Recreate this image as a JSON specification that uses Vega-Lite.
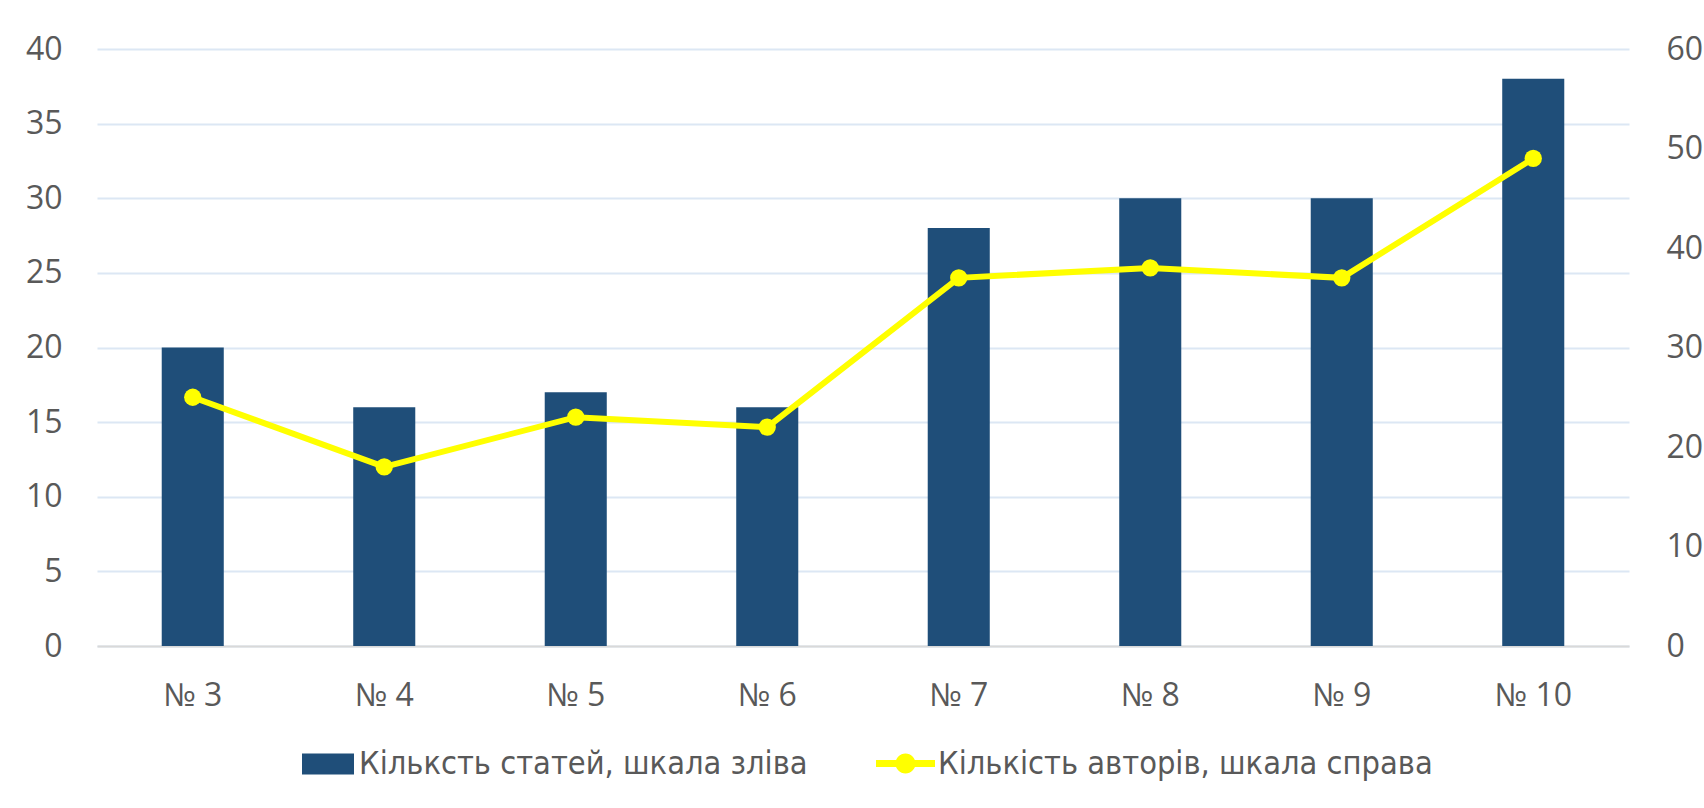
{
  "$schema": "https://vega.github.io/schema/vega-lite/v6.json",
  "width": 1532,
  "height": 597,
  "autosize": {"type": "none"},
  "padding": {"left": 97, "top": 49, "right": 75, "bottom": 162},
  "background": "white",
  "config": {
    "view": {"stroke": null},
    "font": "Open Sans",
    "axis": {"labelFont": "Open Sans", "labelColor": "#595959", "labelFontSize": 32, "tickSize": 0, "ticks": false, "title": null}
  },
  "data": {
    "values": [
      {"issue": "№ 3", "articles": 20, "authors": 25},
      {"issue": "№ 4", "articles": 16, "authors": 18},
      {"issue": "№ 5", "articles": 17, "authors": 23},
      {"issue": "№ 6", "articles": 16, "authors": 22},
      {"issue": "№ 7", "articles": 28, "authors": 37},
      {"issue": "№ 8", "articles": 30, "authors": 38},
      {"issue": "№ 9", "articles": 30, "authors": 37},
      {"issue": "№ 10", "articles": 38, "authors": 49}
    ]
  },
  "encoding": {
    "x": {
      "field": "issue", "type": "nominal", "sort": null,
      "scale": {"paddingInner": 0.676, "paddingOuter": 0.338},
      "axis": {"labelAngle": 0, "labelPadding": 49, "labelBaseline": "middle", "domainColor": "#D9D9D9", "domainWidth": 2, "grid": false}
    }
  },
  "layer": [
    {
      "mark": {"type": "bar", "fill": "#1F4E79"},
      "encoding": {
        "y": {
          "field": "articles", "type": "quantitative",
          "scale": {"domain": [0, 40], "nice": false},
          "axis": {"orient": "left", "values": [0, 5, 10, 15, 20, 25, 30, 35, 40], "domain": false, "grid": true, "gridColor": "#DCE7F4", "gridWidth": 2, "labelPadding": 35}
        },
        "fill": {
          "datum": "Кільк\u0441ть статей, шкала зліва",
          "scale": {"range": ["#1F4E79"]},
          "legend": {
            "title": null, "orient": "none", "legendX": 205, "legendY": 689, "padding": 0,
            "symbolType": "M-1,-0.4H1V0.4H-1Z", "symbolSize": 2704, "symbolStrokeWidth": 0,
            "labelFont": "Liberation Sans Narrow, DejaVu Sans Condensed, sans-serif", "labelFontSize": 32.3, "labelColor": "#595959", "labelOffset": 5, "labelLimit": 2000
          }
        }
      }
    },
    {
      "encoding": {
        "y": {
          "field": "authors", "type": "quantitative",
          "scale": {"domain": [0, 60], "nice": false},
          "axis": {"orient": "right", "values": [0, 10, 20, 30, 40, 50, 60], "domain": false, "grid": false, "labelPadding": 37}
        }
      },
      "layer": [
        {
          "mark": {"type": "line", "strokeWidth": 6, "color": "#FFFF00"},
          "encoding": {
            "stroke": {
              "datum": "Кількість авторів, шкала справа",
              "scale": {"range": ["#FFFF00"]},
              "legend": {
                "title": null, "orient": "none", "legendX": 779, "legendY": 685, "padding": 0,
                "symbolType": "M-1,-0.12H1V0.12H-1Z M-0.34,0 A0.34,0.34 0 1,1 0.34,0 A0.34,0.34 0 1,1 -0.34,0Z",
                "symbolSize": 3481,
                "labelFont": "Liberation Sans Narrow, DejaVu Sans Condensed, sans-serif", "labelFontSize": 32.3, "labelColor": "#595959", "labelOffset": 3, "labelLimit": 2000,
                "encode": {"symbols": {"update": {"fill": {"value": "#FFFF00"}, "strokeWidth": {"value": 0}}}}
              }
            }
          }
        },
        {
          "mark": {"type": "point", "filled": true, "size": 300, "color": "#FFFF00", "opacity": 1}
        }
      ]
    }
  ],
  "resolve": {"scale": {"y": "independent"}}
}
